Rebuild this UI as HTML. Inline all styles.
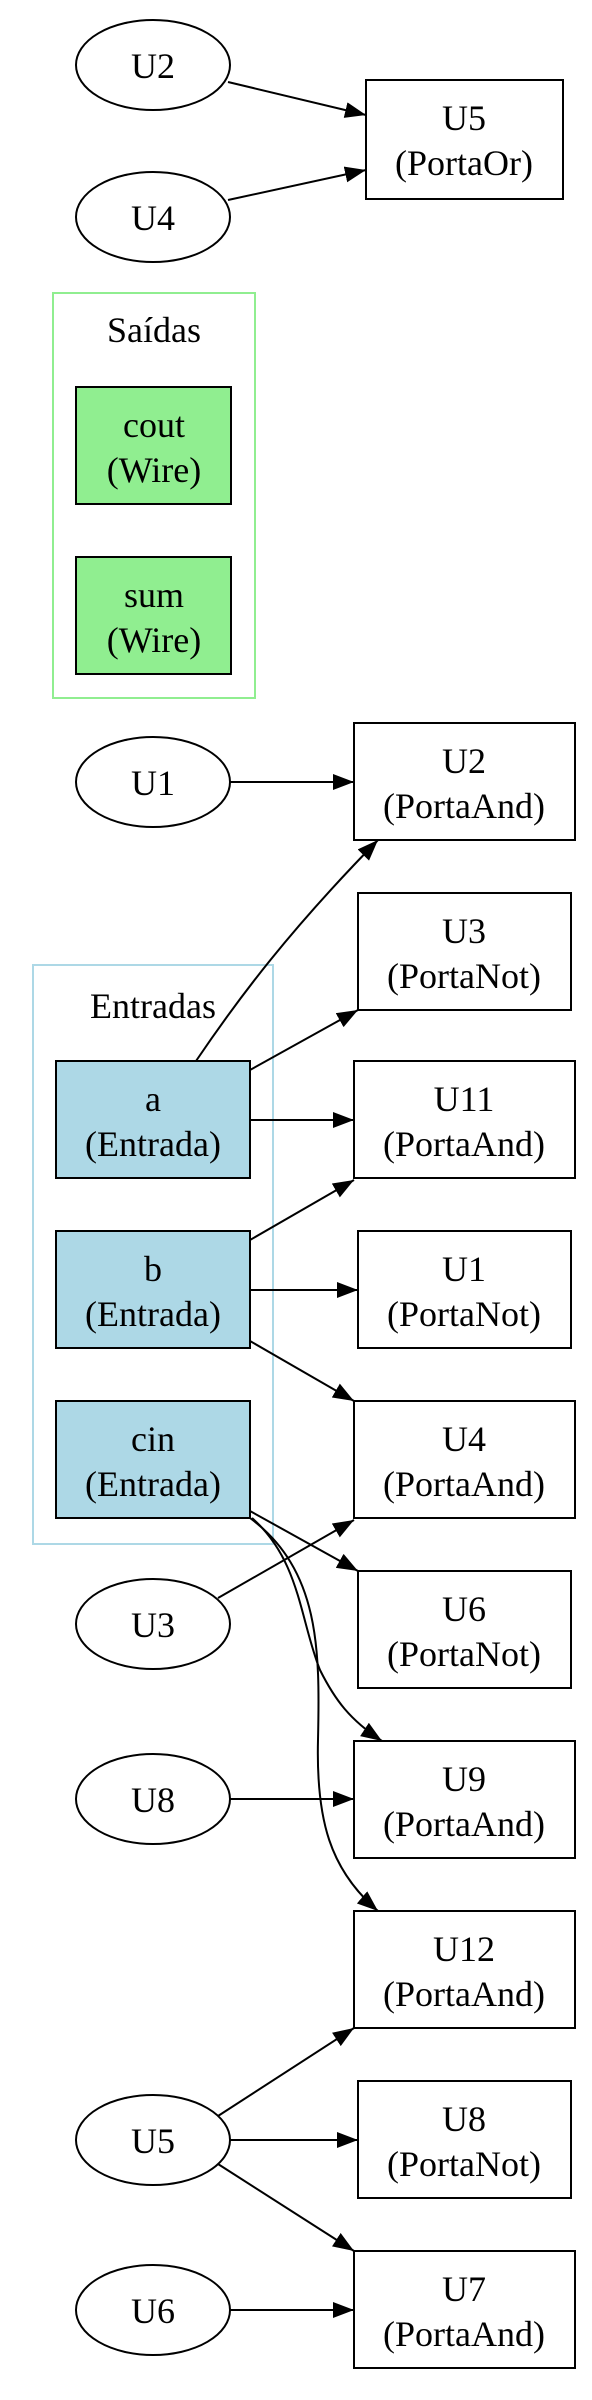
<!DOCTYPE html>
<html><head><meta charset="utf-8"><style>
html,body{margin:0;padding:0;background:#fff}
svg{display:block}
text{font-family:"Liberation Serif",serif;font-size:36px;fill:#000;text-anchor:middle}
</style></head><body>
<svg width="592" height="2400" viewBox="0 0 592 2400" xmlns="http://www.w3.org/2000/svg">
<defs>
<marker id="ah" markerUnits="userSpaceOnUse" markerWidth="22" markerHeight="16" refX="21" refY="8" orient="auto">
<path d="M0,0 L21,8 L0,16 z" fill="#000"/>
</marker>
</defs>
<g fill="none" stroke-width="2">
<!-- clusters -->
<rect x="53" y="293" width="202" height="405" stroke="#90ee90"/>
<rect x="33" y="965" width="240" height="579" stroke="#add8e6"/>
</g>
<g stroke="#000" stroke-width="2" fill="#fff">
<ellipse cx="153" cy="65" rx="77" ry="45"/>
<ellipse cx="153" cy="217" rx="77" ry="45"/>
<rect x="366" y="80" width="197" height="119"/>
<rect x="76" y="387" width="155" height="117" fill="#90ee90"/>
<rect x="76" y="557" width="155" height="117" fill="#90ee90"/>
<ellipse cx="153" cy="782" rx="77" ry="45"/>
<rect x="354" y="723" width="221" height="117"/>
<rect x="358" y="893" width="213" height="117"/>
<rect x="56" y="1061" width="194" height="117" fill="#add8e6"/>
<rect x="354" y="1061" width="221" height="117"/>
<rect x="56" y="1231" width="194" height="117" fill="#add8e6"/>
<rect x="358" y="1231" width="213" height="117"/>
<rect x="56" y="1401" width="194" height="117" fill="#add8e6"/>
<rect x="354" y="1401" width="221" height="117"/>
<ellipse cx="153" cy="1624" rx="77" ry="45"/>
<rect x="358" y="1571" width="213" height="117"/>
<ellipse cx="153" cy="1799" rx="77" ry="45"/>
<rect x="354" y="1741" width="221" height="117"/>
<rect x="354" y="1911" width="221" height="117"/>
<ellipse cx="153" cy="2140" rx="77" ry="45"/>
<rect x="358" y="2081" width="213" height="117"/>
<ellipse cx="153" cy="2310" rx="77" ry="45"/>
<rect x="354" y="2251" width="221" height="117"/>
</g>
<g stroke="#000" stroke-width="2" fill="none" marker-end="url(#ah)">
<path d="M228,82 L366,115"/>
<path d="M228,200 L366,170"/>
<path d="M230,782 L354,782"/>
<path d="M196,1061 C240,996 290,930 378,840"/>
<path d="M250,1070 L358,1010"/>
<path d="M250,1120 L354,1120"/>
<path d="M250,1240 L354,1180"/>
<path d="M250,1290 L358,1290"/>
<path d="M250,1341 L354,1401"/>
<path d="M250,1511 L358,1571"/>
<path d="M218,1598 L354,1520"/>
<path d="M252,1518 C300,1560 300,1620 320,1670 C335,1700 350,1720 382,1741"/>
<path d="M250,1518 C320,1570 320,1650 318,1740 C316,1820 330,1870 378,1911"/>
<path d="M230,1799 L354,1799"/>
<path d="M218,2116 L354,2028"/>
<path d="M230,2140 L358,2140"/>
<path d="M218,2164 L354,2251"/>
<path d="M230,2310 L354,2310"/>
</g>
<g>
<text x="153" y="78">U2</text>
<text x="153" y="230">U4</text>
<text x="464" y="130">U5</text><text x="464" y="175">(PortaOr)</text>
<text x="154" y="342">Saídas</text>
<text x="154" y="437">cout</text><text x="154" y="482">(Wire)</text>
<text x="154" y="607">sum</text><text x="154" y="652">(Wire)</text>
<text x="153" y="795">U1</text>
<text x="464" y="773">U2</text><text x="464" y="818">(PortaAnd)</text>
<text x="464" y="943">U3</text><text x="464" y="988">(PortaNot)</text>
<text x="153" y="1018">Entradas</text>
<text x="153" y="1111">a</text><text x="153" y="1156">(Entrada)</text>
<text x="464" y="1111">U11</text><text x="464" y="1156">(PortaAnd)</text>
<text x="153" y="1281">b</text><text x="153" y="1326">(Entrada)</text>
<text x="464" y="1281">U1</text><text x="464" y="1326">(PortaNot)</text>
<text x="153" y="1451">cin</text><text x="153" y="1496">(Entrada)</text>
<text x="464" y="1451">U4</text><text x="464" y="1496">(PortaAnd)</text>
<text x="153" y="1637">U3</text>
<text x="464" y="1621">U6</text><text x="464" y="1666">(PortaNot)</text>
<text x="153" y="1812">U8</text>
<text x="464" y="1791">U9</text><text x="464" y="1836">(PortaAnd)</text>
<text x="464" y="1961">U12</text><text x="464" y="2006">(PortaAnd)</text>
<text x="153" y="2153">U5</text>
<text x="464" y="2131">U8</text><text x="464" y="2176">(PortaNot)</text>
<text x="153" y="2323">U6</text>
<text x="464" y="2301">U7</text><text x="464" y="2346">(PortaAnd)</text>
</g>
</svg>
</body></html>
